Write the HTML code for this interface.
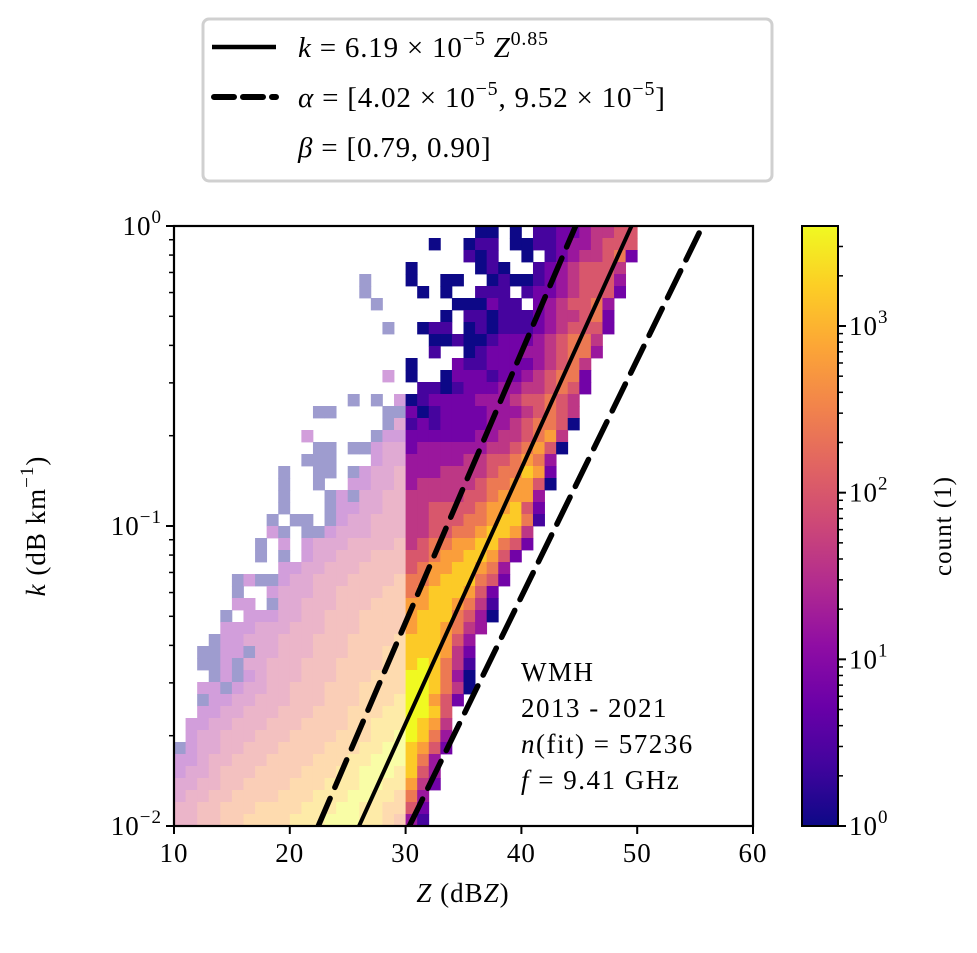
<!DOCTYPE html>
<html><head><meta charset="utf-8">
<style>
html,body{margin:0;padding:0;background:#fff;}
svg{display:block;font-family:"Liberation Serif","DejaVu Serif",serif;}
</style></head>
<body>
<svg id="chart" width="977" height="953" viewBox="0 0 977 953" xmlns="http://www.w3.org/2000/svg">
<defs>
<linearGradient id="plasmaGrad" x1="0" y1="1" x2="0" y2="0">
<stop offset="0" stop-color="#0d0887"/><stop offset="0.1" stop-color="#41049d"/>
<stop offset="0.2" stop-color="#6a00a8"/><stop offset="0.3" stop-color="#8f0da4"/>
<stop offset="0.4" stop-color="#b12a90"/><stop offset="0.5" stop-color="#cc4778"/>
<stop offset="0.6" stop-color="#e16462"/><stop offset="0.7" stop-color="#f2844b"/>
<stop offset="0.8" stop-color="#fca636"/><stop offset="0.9" stop-color="#fcce25"/>
<stop offset="1" stop-color="#f0f921"/>
</linearGradient>
<clipPath id="plotClip"><rect x="174" y="226" width="579" height="600"/></clipPath>
</defs>
<g id="heatmap" clip-path="url(#plotClip)"></g>
<g id="fitLines" clip-path="url(#plotClip)"></g>
<g id="axes"></g>
</svg>
<script>
// ---- data ----
const zBinStart = 10;
const zBinWidth = 1;
const logkBinTop = 0;
const logkBinHeight = 0.04;
// cell level per 1-dBZ column (Z=10..49), groups of 10 columns; digit L => log10(count) ~ L*0.4 ; '.' = empty
const histRows = [
"..........|..........|......00.0|.112234455",
"..........|..........|..0..011.0|0112334555",
"..........|..........|.....101..|0.12344562",
"..........|..........|0.....010.|.12345554.",
"..........|......0...|0..00..010|012345553.",
"..........|......0...|.0.0..111.|122345552.",
"..........|.......0..|....000211|.2345563..",
"..........|..........|...0.11011|12344562..",
"..........|........0.|.011.01011|12345552..",
"..........|..........|..00100122|2345664...",
"..........|..........|..1..01222|3345663...",
"..........|..........|0...211222|234564....",
"..........|........1.|0..0222122|345662....",
"..........|..........|.110122233|445652....",
"..........|.....0.0.1|0122223334|55654.....",
"..........|..00....00|2012222333|45654.....",
"..........|........02|1212222334|56650.....",
"..........|.1.....011|2222223344|5674......",
"..........|..00.00122|2333333445|6750......",
"..........|.000...122|3333344556|763.......",
".........0|..00.01223|3334444566|872.......",
".........0|..0..11223|3444445667|750.......",
".........0|...0102233|4444455677|73........",
".........0|...0112233|4455556778|52........",
"........0.|00.0122333|4455566788|61........",
"........10|.001222333|4455667887|4.........",
".......0.1|.122233334|4566778865|2.........",
".......0.0|.122333444|5567788752|..........",
".........1|1223334444|567788763.|..........",
".....01001|2233344445|667888652.|..........",
".....0..12|2233444455|67888752..|..........",
".....11.02|2333444555|77887641..|..........",
"....0.1112|2334445555|78886530..|..........",
"....111222|3334445555|7887643...|..........",
"...0112223|3344455556|888753....|..........",
"..00110223|3344455566|888742....|..........",
"..00102233|3444555566|898641....|..........",
"...0101233|3444555666|998630....|..........",
"..11012233|4445556666|998640....|..........",
"..01122333|4445556667|99752.....|..........",
"..11223334|4455566677|9985......|..........",
".112233344|4555566777|9874......|..........",
".122333444|5555666778|9863......|..........",
"0122334445|5556667788|8752......|..........",
"1123344455|5566677888|863.......|..........",
"1223444555|5666778887|853.......|..........",
"2233445555|6667778877|742.......|..........",
"2334455556|6677788776|63........|..........",
"3344555666|6777887766|52........|..........",
"3344556666|7778887765|31........|.........."
];
const fitAlpha = [6.19e-5];
const fitBeta = [0.85];
const boundAlpha = [9.52e-5, 4.02e-5];
const boundBeta = [0.90, 0.79];
const xTickValues = [10, 20, 30, 40, 50, 60];
const yTickExponents = [0, -1, -2];
const cbarTickExponents = [0, 1, 2, 3];
const textLines = ["WMH", "2013 - 2021"];

// ---- axis functions ----
const X0 = 174, X1 = 753, Y0 = 226, Y1 = 826;
const zMin = 10, zMax = 60, lkMin = -2, lkMax = 0;
function xScale(z){ return X0 + (z - zMin) / (zMax - zMin) * (X1 - X0); }
function yScale(lk){ return Y0 + (lkMax - lk) / (lkMax - lkMin) * (Y1 - Y0); }
const CB_X = 802, CB_W = 36, cbMaxLog = 3.6;
function cbScale(lc){ return Y1 - lc / cbMaxLog * (Y1 - Y0); }

const plasma = ["#0d0887","#41049d","#6a00a8","#8f0da4","#b12a90","#cc4778","#e16462","#f2844b","#fca636","#fcce25","#f0f921"];
function hex(h){ return [parseInt(h.substr(1,2),16),parseInt(h.substr(3,2),16),parseInt(h.substr(5,2),16)]; }
function plasmaColor(t, alpha){
  t = Math.max(0, Math.min(1, t));
  const p = t * 10, i = Math.min(9, Math.floor(p)), f = p - i;
  const a = hex(plasma[i]), b = hex(plasma[i+1]);
  let c = [0,1,2].map(j => a[j] + (b[j]-a[j]) * f);
  c = c.map(v => Math.round(v * alpha + 255 * (1 - alpha)));
  return "rgb(" + c.join(",") + ")";
}

const NS = "http://www.w3.org/2000/svg";
function mk(tag, attrs, parent){
  const e = document.createElementNS(NS, tag);
  for (const k in attrs) e.setAttribute(k, attrs[k]);
  parent.appendChild(e);
  return e;
}

// ---- heatmap ----
const heat = document.getElementById("heatmap");
histRows.forEach((rowStr, r) => {
  const s = rowStr.split("|").join("");
  for (let c = 0; c < s.length; c++) {
    const ch = s[c];
    if (ch < "0" || ch > "9") continue;
    const z = zBinStart + c * zBinWidth;
    const lkTop = logkBinTop - r * logkBinHeight;
    const lvl = parseInt(ch, 10);
    const x = xScale(z), x2 = xScale(z + zBinWidth);
    const y = yScale(lkTop), y2 = yScale(lkTop - logkBinHeight);
    const left = z < 30;
    const t = left ? (lvl === 0 ? 0 : Math.min(1, (lvl + 2) / 10)) : lvl / 9;
    const cell = mk("rect", {x: x.toFixed(2), y: y.toFixed(2), width: (x2 - x + 0.4).toFixed(2), height: (y2 - y + 0.4).toFixed(2), fill: plasmaColor(t, left ? 0.4 : 1)}, heat);
    
    
  }
});

// ---- fit lines ----
const lines = document.getElementById("fitLines");
function drawPowerLine(alpha, beta, dashed, name){
  const la = Math.log10(alpha);
  const zA = (lkMin - la) * 10 / beta, zB = (lkMax - la) * 10 / beta;
  const ln = mk("line", {x1: xScale(zA), y1: yScale(lkMin), x2: xScale(zB), y2: yScale(lkMax), stroke: "#000", "stroke-width": dashed ? 5.5 : 4, "stroke-dasharray": dashed ? "30 12" : "none", "stroke-linecap": dashed ? "round" : "butt"}, lines);
  
  
}
fitAlpha.forEach((a, i) => drawPowerLine(a, fitBeta[i], false, "fit-line"));
boundAlpha.forEach((a, i) => drawPowerLine(a, boundBeta[i], true, "bound-line"));

// ---- axes ----
const ax = document.getElementById("axes");
const frame = mk("rect", {x: X0, y: Y0, width: X1 - X0, height: Y1 - Y0, fill: "none", stroke: "#000", "stroke-width": 2.2}, ax);



xTickValues.forEach(v => {
  const x = xScale(v);
  const t = mk("line", {x1: x, y1: Y1, x2: x, y2: Y1 + 8, stroke: "#000", "stroke-width": 2}, ax);
  
  
  const lb = mk("text", {x: x, y: Y1 + 36, "text-anchor": "middle", "font-size": 27, "letter-spacing": 1}, ax);
  lb.textContent = String(v);
  
  
});
function powLabel(parent, x, y, exp, anchor, name){
  const t = mk("text", {x: x, y: y, "text-anchor": anchor, "font-size": 27, "letter-spacing": 1}, parent);
  const b = document.createElementNS(NS, "tspan"); b.textContent = "10"; t.appendChild(b);
  const s = document.createElementNS(NS, "tspan"); s.setAttribute("dy", -12); s.setAttribute("font-size", 19);
  s.textContent = exp < 0 ? "\u2212" + (-exp) : String(exp); t.appendChild(s);
  
  
  return t;
}
yTickExponents.forEach(e => {
  const y = yScale(e);
  const t = mk("line", {x1: X0 - 8, y1: y, x2: X0, y2: y, stroke: "#000", "stroke-width": 2}, ax);
  
  
  powLabel(ax, X0 - 12, y + 9, e, "end", "y-tick-label");
  if (e > lkMin) {
    for (let m = 2; m <= 9; m++) {
      const ym = yScale(e - 1 + Math.log10(m));
      const mt = mk("line", {x1: X0 - 5, y1: ym, x2: X0, y2: ym, stroke: "#000", "stroke-width": 1.5}, ax);
      
      
    }
  }
});

const xt = mk("text", {x: 463, y: 902, "text-anchor": "middle", "font-size": 27, "letter-spacing": 1}, ax);
xt.innerHTML = '<tspan font-style="italic">Z</tspan> (dB<tspan font-style="italic">Z</tspan>)';


const yt = mk("text", {x: 0, y: 0, "text-anchor": "middle", "font-size": 27, "letter-spacing": 1, transform: "translate(45,526) rotate(-90)"}, ax);
yt.innerHTML = '<tspan font-style="italic">k</tspan> (dB km<tspan dy="-12" font-size="19">\u22121</tspan><tspan dy="12">)</tspan>';



// annotation text
const ann = mk("g", {}, ax);


const annY = [681, 717, 753, 789];
const annStyle = {"font-size": 27, "letter-spacing": 1.5};
textLines.forEach((s, i) => {
  const t = mk("text", Object.assign({x: 521, y: annY[i]}, annStyle), ann);
  t.textContent = s;
  
  
});
const a3 = mk("text", Object.assign({x: 521, y: annY[2]}, annStyle), ann);
a3.innerHTML = '<tspan font-style="italic">n</tspan>(fit) = 57236';


const a4 = mk("text", Object.assign({x: 521, y: annY[3]}, annStyle), ann);
a4.innerHTML = '<tspan font-style="italic">f</tspan> = 9.41 GHz';



// colorbar
const cb = mk("g", {}, ax);


const cbr = mk("rect", {x: CB_X, y: Y0, width: CB_W, height: Y1 - Y0, fill: "url(#plasmaGrad)", stroke: "#000", "stroke-width": 2}, cb);


cbarTickExponents.forEach(e => {
  const y = cbScale(e);
  const t = mk("line", {x1: CB_X + CB_W, y1: y, x2: CB_X + CB_W + 8, y2: y, stroke: "#000", "stroke-width": 2}, cb);
  
  
  powLabel(cb, CB_X + CB_W + 11, y + 9, e, "start", "colorbar-tick-label");
  for (let m = 2; m <= 9; m++) {
    const lm = e + Math.log10(m);
    if (lm > cbMaxLog) break;
    const ym = cbScale(lm);
    const mt = mk("line", {x1: CB_X + CB_W, y1: ym, x2: CB_X + CB_W + 5, y2: ym, stroke: "#000", "stroke-width": 1.5}, cb);
    
    
  }
});
const cbt = mk("text", {x: 0, y: 0, "text-anchor": "middle", "font-size": 25, "letter-spacing": 1, transform: "translate(951,526) rotate(-90)"}, cb);
cbt.textContent = "count (1)";



// legend
const lg = mk("g", {}, ax);


const lgb = mk("rect", {x: 203, y: 19, width: 569, height: 162, rx: 6, fill: "#fff", stroke: "#d0d0d0", "stroke-width": 3}, lg);


const ls = mk("line", {x1: 212, y1: 47, x2: 276, y2: 47, stroke: "#000", "stroke-width": 4.5}, lg);


const ld = mk("line", {x1: 214, y1: 97, x2: 276, y2: 97, stroke: "#000", "stroke-width": 6, "stroke-dasharray": "20 9", "stroke-linecap": "round"}, lg);


const lgStyle = {"font-size": 29, "letter-spacing": 0.8};
const l1 = mk("text", Object.assign({x: 298, y: 57}, lgStyle), lg);
l1.innerHTML = '<tspan font-style="italic">k</tspan> = 6.19 \u00d7 10<tspan dy="-12" font-size="20">\u22125</tspan><tspan dy="12"> </tspan><tspan font-style="italic">Z</tspan><tspan dy="-12" font-size="20">0.85</tspan>';


const l2 = mk("text", Object.assign({x: 298, y: 107}, lgStyle), lg);
l2.innerHTML = '<tspan font-style="italic">\u03b1</tspan> = [4.02 \u00d7 10<tspan dy="-12" font-size="20">\u22125</tspan><tspan dy="12">, 9.52 \u00d7 10</tspan><tspan dy="-12" font-size="20">\u22125</tspan><tspan dy="12">]</tspan>';


const l3 = mk("text", Object.assign({x: 298, y: 157}, lgStyle), lg);
l3.innerHTML = '<tspan font-style="italic">\u03b2</tspan> = [0.79, 0.90]';


</script>
</body></html>
